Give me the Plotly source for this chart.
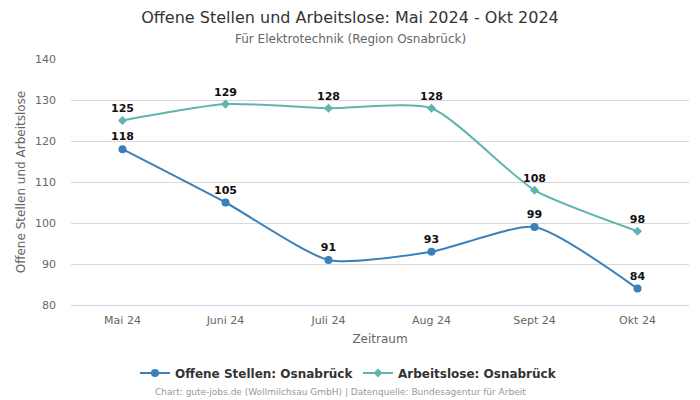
import plotly.graph_objects as go

months = ["Mai 24", "Juni 24", "Juli 24", "Aug 24", "Sept 24", "Okt 24"]
offene = [118, 105, 91, 93, 99, 84]
arbeitslose = [125, 129, 128, 128, 108, 98]
y_ticks = [80, 90, 100, 110, 120, 130, 140]

FONT = "DejaVu Sans"
# page body adds an 8px offset; figure is sized to fit the 700x400 window
W, H = 692, 392
fig = go.Figure()
fig.add_trace(go.Scatter(
    x=months, y=offene, mode="lines+markers+text", name="Offene Stellen: Osnabrück",
    line=dict(color="#3a80ba", width=2, shape="spline", smoothing=0.6),
    marker=dict(symbol="circle", size=8, color="#3a80ba"),
    text=[str(v) for v in offene], textposition="top center",
    textfont=dict(family=FONT, size=11, color="#111111", weight="bold"),
    cliponaxis=False,
))
fig.add_trace(go.Scatter(
    x=months, y=arbeitslose, mode="lines+markers+text", name="Arbeitslose: Osnabrück",
    line=dict(color="#5fb5ae", width=2, shape="spline", smoothing=0.6),
    marker=dict(symbol="diamond", size=7, color="#5fb5ae"),
    text=[str(v) for v in arbeitslose], textposition="top center",
    textfont=dict(family=FONT, size=11, color="#111111", weight="bold"),
    cliponaxis=False,
))

fig.update_layout(
    width=W, height=H,
    paper_bgcolor="white", plot_bgcolor="white",
    font=dict(family=FONT, color="#666666", size=11),
    margin=dict(l=63, r=11, t=51, b=95, autoexpand=False),
    title=dict(
        text="Offene Stellen und Arbeitslose: Mai 2024 - Okt 2024",
        x=342 / W, xanchor="center", xref="container",
        y=1 - 9 / H, yanchor="middle", yref="container",
        font=dict(family=FONT, size=16, color="#333333"),
    ),
    xaxis=dict(
        type="category", range=[-0.5, 5.5], showgrid=False, automargin=True,
        showline=True, linecolor="#ccd6eb", ticks="", ticklabelstandoff=5,
        title=dict(text="Zeitraum", font=dict(size=12, color="#666666"), standoff=8),
        tickfont=dict(size=11, color="#666666"),
    ),
    yaxis=dict(
        range=[80, 140], tickvals=y_ticks, showgrid=True, gridcolor="#d8d8d8",
        zeroline=False, showline=False, automargin=True, ticklabelstandoff=14,
        title=dict(text="Offene Stellen und Arbeitslose", font=dict(size=12, color="#666666"), standoff=6),
        tickfont=dict(size=11, color="#666666"),
    ),
    legend=dict(
        orientation="h", x=127 / W, xanchor="left", xref="container",
        y=1 - 365 / H, yanchor="middle", yref="container",
        font=dict(family=FONT, size=12, color="#333333", weight="bold"),
        itemwidth=30, entrywidth=178, entrywidthmode="pixels",
    ),
    annotations=[
        dict(
            text="Für Elektrotechnik (Region Osnabrück)",
            xref="paper", yref="paper", x=(342 - 63) / 618, y=1 + (51 - 31) / 246,
            xanchor="center", yanchor="middle", showarrow=False,
            font=dict(family=FONT, size=12, color="#666666"),
        ),
        dict(
            text="Chart: gute-jobs.de (Wollmilchsau GmbH) | Datenquelle: Bundesagentur für Arbeit",
            xref="paper", yref="paper", x=(332 - 63) / 618, y=-(384 - 297) / 246,
            xanchor="center", yanchor="middle", showarrow=False,
            font=dict(family=FONT, size=9, color="#999999"),
        ),
    ],
)
fig.write_html("out.html")
